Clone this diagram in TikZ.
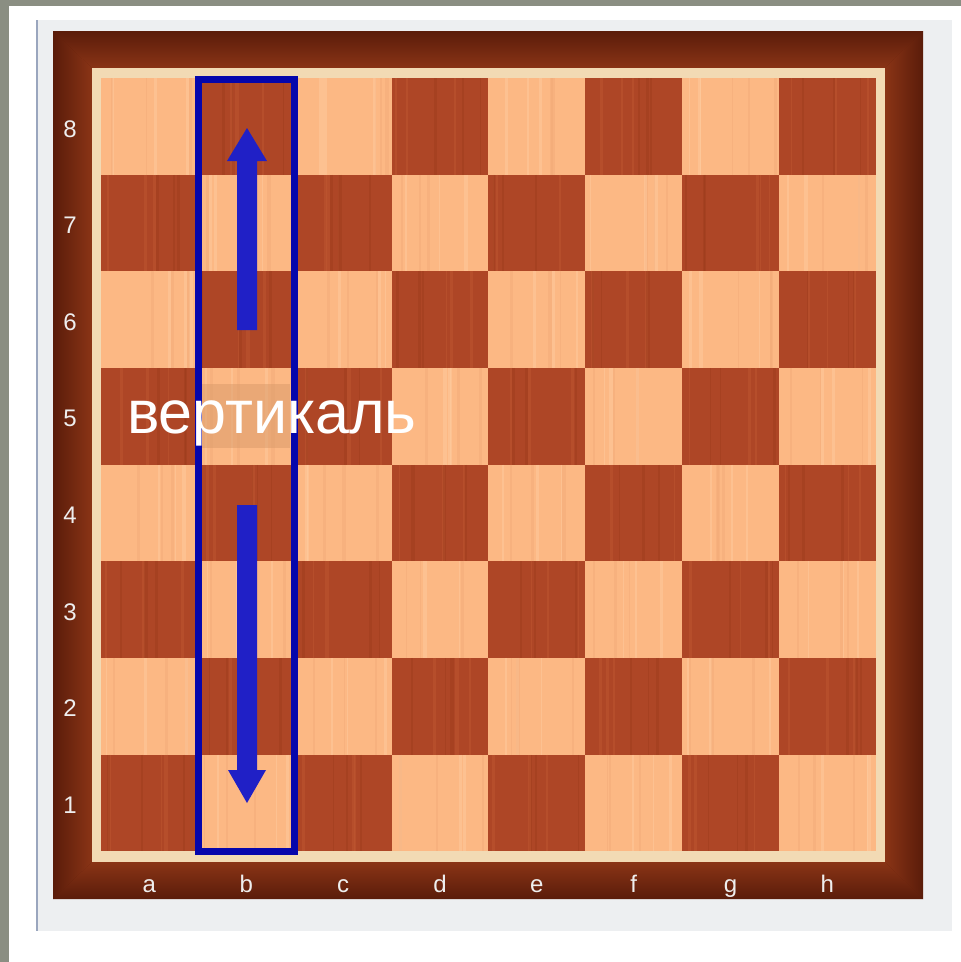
\documentclass[tikz,border=0pt]{standalone}
\usepackage{fontspec}
\setmainfont{Liberation Sans}
\definecolor{bgGrey}{HTML}{8A8E82}
\definecolor{panel}{HTML}{EDEFF1}
\definecolor{panelline}{HTML}{9AA6BE}
\definecolor{frameDark}{HTML}{5A1C0A}
\definecolor{frameMid}{HTML}{8A3416}
\definecolor{inlay}{HTML}{F2DAB4}
\definecolor{sqLight}{HTML}{FCB884}
\definecolor{sqDark}{HTML}{AE4626}
\definecolor{sqLightA}{HTML}{FFD0A6}
\definecolor{sqLightB}{HTML}{EEA472}
\definecolor{sqDarkA}{HTML}{C45C34}
\definecolor{sqDarkB}{HTML}{943818}
\definecolor{boxBlue}{HTML}{0606AC}
\definecolor{arrBlue}{HTML}{2020C6}
\definecolor{labelGrey}{HTML}{EEEEEE}
\definecolor{patch}{HTML}{D99A6A}
\tikzset{
  coordlabel/.style={text=labelGrey, font=\fontsize{24}{28}\selectfont, inner sep=0pt, anchor=base},
  bigword/.style={text=white, font=\fontsize{61}{72}\selectfont, inner sep=0pt, anchor=base west},
  colbox/.style={draw=boxBlue, line width=7pt},
  arrowshape/.style={fill=arrBlue},
}
\begin{document}
\begin{tikzpicture}[x=1pt,y=-1pt]
\useasboundingbox (0,0) rectangle (961,962);
% backgrounds
\fill[bgGrey] (0,0) rectangle (961,962);
\fill[white] (9,6) rectangle (961,962);
\fill[panel] (36,20) rectangle (952,931);
\draw[panelline, line width=2pt] (37,20) -- (37,931);
% wooden frame
\fill[frameDark] (53,31) rectangle (923,899);
\shade[top color=frameDark, bottom color=frameMid] (53,31) -- (923,31) -- (885,68) -- (92,68) -- cycle;
\shade[top color=frameMid, bottom color=frameDark] (53,899) -- (923,899) -- (885,862) -- (92,862) -- cycle;
\shade[left color=frameDark, right color=frameMid] (53,31) -- (92,68) -- (92,862) -- (53,899) -- cycle;
\shade[left color=frameMid, right color=frameDark] (923,31) -- (885,68) -- (885,862) -- (923,899) -- cycle;
% inlay
\fill[inlay] (92,68) rectangle (885,862);
% squares
\pgfmathsetseed{3}
\foreach \c in {0,...,7}{
  \foreach \r in {0,...,7}{
    \pgfmathsetmacro\xa{101+\c*96.85}
    \pgfmathsetmacro\ya{78+\r*96.65}
    \pgfmathtruncatemacro\odd{mod(\c+\r,2)}
    \ifnum\odd=0
      \fill[sqLight] (\xa,\ya) rectangle ++(96.85,96.65);
      \foreach \k in {1,...,6}{
        \pgfmathsetmacro\sx{\xa+4+rnd*89}
        \pgfmathsetmacro\sw{0.8+rnd*3}
        \ifodd\k
          \draw[sqLightA, line width=\sw pt, opacity=0.4] (\sx,\ya) -- ++(0,96.65);
        \else
          \draw[sqLightB, line width=\sw pt, opacity=0.3] (\sx,\ya) -- ++(0,96.65);
        \fi
      }
    \else
      \fill[sqDark] (\xa,\ya) rectangle ++(96.85,96.65);
      \foreach \k in {1,...,6}{
        \pgfmathsetmacro\sx{\xa+4+rnd*89}
        \pgfmathsetmacro\sw{0.8+rnd*3}
        \ifodd\k
          \draw[sqDarkA, line width=\sw pt, opacity=0.4] (\sx,\ya) -- ++(0,96.65);
        \else
          \draw[sqDarkB, line width=\sw pt, opacity=0.3] (\sx,\ya) -- ++(0,96.65);
        \fi
      }
    \fi
  }
}
% coordinates labels
\foreach \r [count=\i from 0] in {8,7,6,5,4,3,2,1}
  \node[coordlabel] (rank\r) at (70,137+\i*96.65) {\r};
\foreach \f [count=\i from 0] in {a,b,c,d,e,f,g,h}
  \node[coordlabel] (file\f) at (149.4+\i*96.85,892) {\f};
% patch behind word on b5
\fill[patch, opacity=0.5] (202,384) rectangle (290,448);
% column box
\coordinate (colTL) at (198.5,79.5);
\coordinate (colBR) at (294,851.5);
\draw[colbox] (colTL) rectangle (colBR);
% arrows
\coordinate (upTip) at (247,128);
\coordinate (downTip) at (247,803);
\fill[arrowshape] (237,330) -- (237,161) -- (227,161) -- (upTip) -- (267,161) -- (257,161) -- (257,330) -- cycle;
\fill[arrowshape] (237,505) -- (237,770) -- (228,770) -- (downTip) -- (266,770) -- (257,770) -- (257,505) -- cycle;
% word
\node[bigword] (vert) at (127,433) {вертикаль};
\end{tikzpicture}
\end{document}
